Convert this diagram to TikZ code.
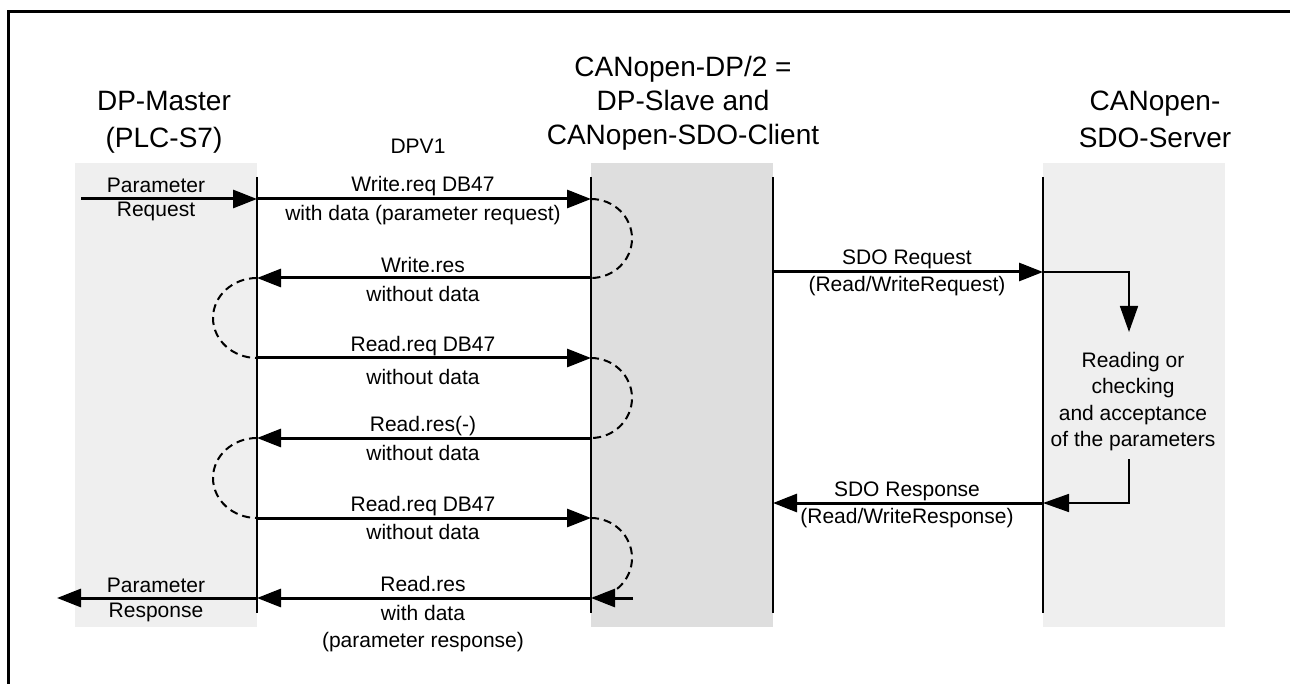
\documentclass[tikz,border=0pt]{standalone}
\usepackage{fontspec}
\setmainfont{Liberation Sans}
\usetikzlibrary{arrows.meta}
\definecolor{lanelight}{HTML}{EFEFEF}
\definecolor{lanemid}{HTML}{DEDEDE}
\begin{document}
\begin{tikzpicture}[x=1pt,y=-1pt,
  lanebox/.style={draw=none},
  lifeline/.style={line width=2pt},
  msg/.style={line width=3pt,-{Triangle[length=24pt,width=18pt]}},
  waitarc/.style={line width=2pt,dash pattern=on 8pt off 5pt},
  bracketline/.style={line width=1.6pt,-{Triangle[length=26pt,width=18pt]}},
  lbl/.style={font=\fontsize{21}{25}\selectfont,inner sep=0pt,text height=15pt,text depth=0pt},
  head/.style={font=\fontsize{28}{34}\selectfont,inner sep=0pt,text height=20pt,text depth=0pt}]
\useasboundingbox (0,0) rectangle (1290,684);
% lanes
\fill[lanelight] (75,163) rectangle (257,627);
\fill[lanemid] (591,163) rectangle (773,627);
\fill[lanelight] (1043,163) rectangle (1225,627);
% frame
\draw[line width=3pt] (8.5,684) -- (8.5,11.5) -- (1290,11.5);
% lifelines
\coordinate (Ltop) at (257,177); \coordinate (Lbot) at (257,613);
\coordinate (Ctop) at (591,177); \coordinate (Cbot) at (591,613);
\coordinate (Dtop) at (773,177); \coordinate (Dbot) at (773,613);
\coordinate (Rtop) at (1043,177); \coordinate (Rbot) at (1043,613);
\draw[lifeline] (Ltop) -- (Lbot);
\draw[lifeline] (Ctop) -- (Cbot);
\draw[lifeline] (Dtop) -- (Dbot);
\draw[lifeline] (Rtop) -- (Rbot);
% message points
\coordinate (L1) at (257,199); \coordinate (C1) at (591,199);
\coordinate (L2) at (257,278); \coordinate (C2) at (591,278);
\coordinate (L3) at (257,358); \coordinate (C3) at (591,358);
\coordinate (L4) at (257,438); \coordinate (C4) at (591,438);
\coordinate (L5) at (257,518); \coordinate (C5) at (591,518);
\coordinate (L6) at (257,598); \coordinate (C6) at (591,598);
\coordinate (Pin) at (81,199); \coordinate (Pout) at (57,598);
\coordinate (Cx) at (633,598);
\coordinate (D1) at (773,272); \coordinate (R1) at (1043,272);
\coordinate (B1) at (1129,272); \coordinate (B2) at (1129,332);
\coordinate (B3) at (1129,459); \coordinate (B4) at (1129,503);
\coordinate (R2) at (1043,503); \coordinate (D2) at (773,503);
% waiting arcs
\draw[waitarc] (C1) arc[start angle=90,end angle=-90,x radius=41pt,y radius=39.5pt];
\draw[waitarc] (L2) arc[start angle=90,end angle=270,x radius=44pt,y radius=40pt];
\draw[waitarc] (C3) arc[start angle=90,end angle=-90,x radius=41pt,y radius=40pt];
\draw[waitarc] (L4) arc[start angle=90,end angle=270,x radius=44pt,y radius=40pt];
\draw[waitarc] (C5) arc[start angle=90,end angle=-90,x radius=41pt,y radius=40pt];
% messages
\draw[msg] (Pin) -- (L1);
\draw[msg] (L1) -- (C1);
\draw[msg] (C2) -- (L2);
\draw[msg] (L3) -- (C3);
\draw[msg] (C4) -- (L4);
\draw[msg] (L5) -- (C5);
\draw[msg] (Cx) -- (C6);
\draw[msg] (C6) -- (L6);
\draw[msg] (L6) -- (Pout);
\draw[msg] (D1) -- (R1);
\draw[bracketline] (R1) -- (B1) -- (B2);
\draw[bracketline] (B3) -- (B4) -- (R2);
\draw[msg] (R2) -- (D2);
% headers
\node[head] (hm1) at (164,101) {DP-Master};
\node[head] (hm2) at (164,138) {(PLC-S7)};
\node[head] (hc1) at (683,67) {CANopen-DP/2 =};
\node[head] (hc2) at (683,101) {DP-Slave and};
\node[head] (hc3) at (683,135) {CANopen-SDO-Client};
\node[head] (hs1) at (1155,101) {CANopen-};
\node[head] (hs2) at (1155,138) {SDO-Server};
% labels
\node[lbl] (dpv) at (418,146) {DPV1};
\node[lbl] (pr1) at (156,185) {Parameter};
\node[lbl] (pr2) at (156,209) {Request};
\node[lbl] (wq1) at (423,184) {Write.req DB47};
\node[lbl] (wq2) at (423,213) {with data (parameter request)};
\node[lbl] (ws1) at (423,265) {Write.res};
\node[lbl] (ws2) at (423,294) {without data};
\node[lbl] (rq1) at (423,344) {Read.req DB47};
\node[lbl] (rq2) at (423,377) {without data};
\node[lbl] (rn1) at (423,424) {Read.res(-)};
\node[lbl] (rn2) at (423,453) {without data};
\node[lbl] (rr1) at (423,504) {Read.req DB47};
\node[lbl] (rr2) at (423,532) {without data};
\node[lbl] (rs1) at (423,584) {Read.res};
\node[lbl] (rs2) at (423,613) {with data};
\node[lbl] (rs3) at (423,640) {(parameter response)};
\node[lbl] (pp1) at (156,585) {Parameter};
\node[lbl] (pp2) at (156,610) {Response};
\node[lbl] (sq1) at (907,257) {SDO Request};
\node[lbl] (sq2) at (907,284) {(Read/WriteRequest)};
\node[lbl] (sr1) at (907,489) {SDO Response};
\node[lbl] (sr2) at (907,516) {(Read/WriteResponse)};
\node[lbl] (ra1) at (1133,360) {Reading or};
\node[lbl] (ra2) at (1133,386) {checking};
\node[lbl] (ra3) at (1133,413) {and acceptance};
\node[lbl] (ra4) at (1133,439) {of the parameters};
\end{tikzpicture}
\end{document}
